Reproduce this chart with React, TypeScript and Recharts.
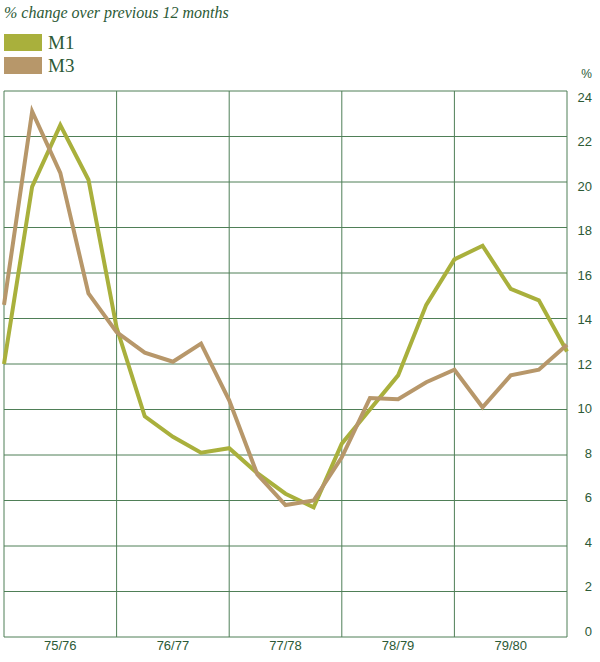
import { CartesianGrid, Line, LineChart, ReferenceLine, XAxis, YAxis } from "recharts";

// quarterly observations, 75/76 through 79/80 (index 0 = start of 75/76)
const seasons = ["75/76", "76/77", "77/78", "78/79", "79/80"];
const m1 = [12.0, 19.8, 22.5, 20.1, 13.6, 9.7, 8.8, 8.1, 8.3, 7.2, 6.3, 5.7, 8.5, 10.0, 11.5, 14.6, 16.6, 17.2, 15.3, 14.8, 12.55];
const m3 = [14.6, 23.1, 20.4, 15.1, 13.4, 12.5, 12.1, 12.9, 10.4, 7.15, 5.8, 6.0, 7.9, 10.5, 10.45, 11.2, 11.75, 10.1, 11.5, 11.75, 12.85];
const yearBounds = [0, 4, 8, 12, 16, 20];
const seasonTicks = [2, 6, 10, 14, 18];
const yTicks = [0, 2, 4, 6, 8, 10, 12, 14, 16, 18, 20, 22, 24];

const GRID = "#4f7f57";
const INK = "#2c5a36";
const M1_COLOR = "#a9b03c";
const M3_COLOR = "#b7976a";

const data = m1.map((v, i) => ({ q: i, m1: v, m3: m3[i] }));

/** right-hand % ticks; printed labels sit slightly tighter than the grid */
function PctTick(props: any) {
  const { x, y, payload } = props;
  const v = payload.value as number;
  return (
    <text x={x} y={y + (v - 12) * 0.5} dy="0.36em" textAnchor="end" fill={INK} fontSize={13} fontFamily="'Liberation Sans', Arial, sans-serif">
      {v}
    </text>
  );
}

function Swatch({ color, label, top }: { color: string; label: string; top: number }) {
  return (
    <div style={{ position: "absolute", left: 4, top, display: "flex", alignItems: "center" }}>
      <div style={{ width: 38, height: 17, background: color }} />
      <span style={{ marginLeft: 6, fontFamily: "'Liberation Serif', serif", fontSize: 19, color: INK, lineHeight: "17px" }}>{label}</span>
    </div>
  );
}

export default function App() {
  return (
    <div style={{ position: "absolute", left: 0, top: 0, width: 600, height: 662, background: "#fff" }}>
      <div style={{ position: "absolute", left: 4, top: 4, fontFamily: "'Liberation Serif', serif", fontStyle: "italic", fontSize: 16, color: INK }}>
        % change over previous 12 months
      </div>
      <Swatch color={M1_COLOR} label="M1" top={34} />
      <Swatch color={M3_COLOR} label="M3" top={57} />
      <div style={{ position: "absolute", right: 8, top: 67, fontFamily: "'Liberation Sans', Arial, sans-serif", fontSize: 12, color: INK }}>%</div>
      <LineChart width={600} height={662} data={data} margin={{ top: 91, right: 0, bottom: 0, left: 4 }}>
        <CartesianGrid vertical={false} stroke={GRID} strokeWidth={1} />
        {yearBounds.map((b) => (
          <ReferenceLine key={b} x={b} stroke={GRID} strokeWidth={1} />
        ))}
        <XAxis
          dataKey="q"
          type="number"
          domain={[0, 20]}
          ticks={seasonTicks}
          interval={0}
          height={25}
          axisLine={false}
          tickLine={false}
          tickSize={0}
          tickMargin={4}
          tickFormatter={(v: number) => seasons[(v - 2) / 4]}
          tick={{ fill: INK, fontSize: 13, fontFamily: "'Liberation Sans', Arial, sans-serif" }}
        />
        <YAxis
          orientation="right"
          width={33}
          domain={[0, 24]}
          ticks={yTicks}
          interval={0}
          axisLine={false}
          tickLine={false}
          tickSize={0}
          tickMargin={25}
          tick={<PctTick />}
        />
        <Line type="linear" dataKey="m1" stroke={M1_COLOR} strokeWidth={4} dot={false} activeDot={false} isAnimationActive={false} />
        <Line type="linear" dataKey="m3" stroke={M3_COLOR} strokeWidth={4} dot={false} activeDot={false} isAnimationActive={false} />
      </LineChart>
    </div>
  );
}
